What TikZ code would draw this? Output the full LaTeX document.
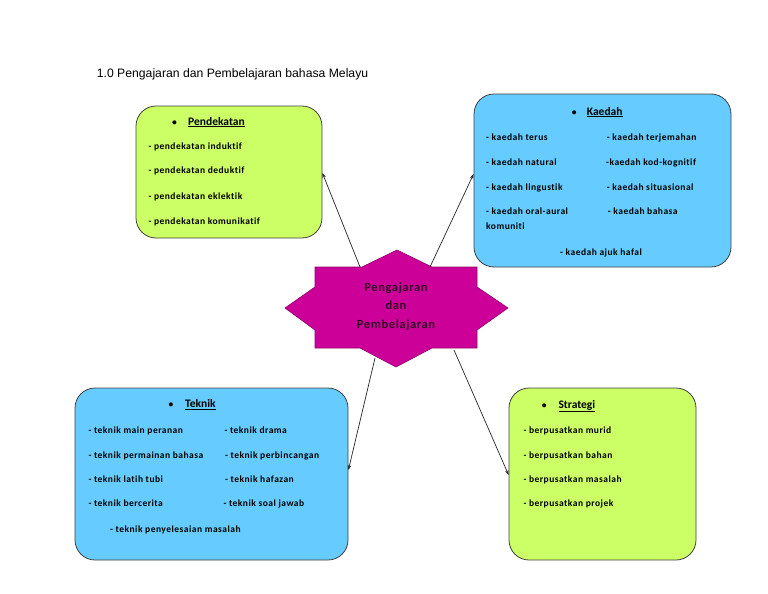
\documentclass[tikz,border=0pt]{standalone}
\usepackage{fontspec}
\setmainfont{Carlito}
\newfontfamily\titlefont{Liberation Sans}
\newfontfamily\boxfont[LetterSpace=5,Ligatures=NoCommon]{Carlito}
\usetikzlibrary{arrows.meta}

\definecolor{limebox}{RGB}{204,255,102}
\definecolor{skybox}{RGB}{102,204,255}
\definecolor{starpink}{RGB}{204,0,153}
\definecolor{startext}{RGB}{55,0,40}

\tikzset{
  panel/.style={draw=black!75, line width=0.8pt, rounded corners=20pt, inner sep=0pt},
  item/.style={anchor=mid west, inner sep=0pt, font=\boxfont\fontsize{9.5}{11}\selectfont\bfseries},
  heading/.style={anchor=mid west, inner sep=0pt, font=\fontsize{11.5}{13}\selectfont\bfseries},
  link/.style={-{Stealth[length=5pt,width=3.5pt]}, line width=0.7pt, black!85},
}

\begin{document}
\begin{tikzpicture}[x=1pt,y=-1pt]
\useasboundingbox (0,0) rectangle (768,594);

% title
\node [anchor=mid west, inner sep=0pt, font=\titlefont\fontsize{12.2}{14}\selectfont] (title) at (96.7,75) {1.0 Pengajaran dan Pembelajaran bahasa Melayu};

% panels
\node [panel, fill=limebox, minimum width=186pt, minimum height=132pt] (pend) at (229,172) {};
\node [panel, fill=skybox, minimum width=257pt, minimum height=173pt] (kaed) at (602.5,180.5) {};
\node [panel, fill=skybox, minimum width=273pt, minimum height=172pt] (tek) at (211.5,474) {};
\node [panel, fill=limebox, minimum width=187pt, minimum height=172pt] (strat) at (602.5,474) {};

% star
\coordinate (A) at (315,267);
\coordinate (B) at (362,267);
\coordinate (C) at (397,250);
\coordinate (D) at (432,267);
\coordinate (E) at (477,267);
\coordinate (F) at (477,287);
\coordinate (G) at (508,308);
\coordinate (H) at (477,330);
\coordinate (I) at (477,348);
\coordinate (J) at (432,348);
\coordinate (K) at (396,367);
\coordinate (L) at (360,348);
\coordinate (M) at (315,348);
\coordinate (N) at (315,330);
\coordinate (O) at (285,308);
\coordinate (P) at (315,287);

\draw [draw=starpink!70!black, line width=0.6pt, fill=starpink]
(A)--(B)--(C)--(D)--(E)--(F)--(G)--(H)--(I)--(J)--(K)--(L)--(M)--(N)--(O)--(P)--cycle;

\node [align=center, inner sep=0pt, text=startext, font=\boxfont\fontsize{12.5}{18.5}\selectfont\bfseries] (core) at (396,306.5) {Pengajaran\\dan\\Pembelajaran};

% arrow starts on the star
\coordinate (outPend) at (360,267);
\coordinate (outKaed) at (430,267);
\coordinate (outTek) at (375,358);
\coordinate (outStrat) at (454,350);

\draw [link] (outPend) -- ([yshift=-1pt]pend.east);
\draw [link] (outKaed) -- ([yshift=6.5pt]kaed.west);
\draw [link] (outTek) -- ([yshift=4pt]tek.east);
\draw [link] (outStrat) -- ([yshift=-1pt]strat.west);

% Pendekatan
\node [item] (pendB) at (172,122.7) {•};
\node [heading] (pendH) at (188,122.7) {\underline{Pendekatan}};
\node [item] (pend1) at (148.3,146.7) {- pendekatan induktif};
\node [item] (pend2) at (148.3,171.5) {- pendekatan deduktif};
\node [item] (pend3) at (148.3,196.7) {- pendekatan eklektik};
\node [item] (pend4) at (148.3,221.7) {- pendekatan komunikatif};

% Kaedah
\node [item] (kaedB) at (571.7,112.7) {•};
\node [heading] (kaedH) at (586.7,112.7) {\underline{Kaedah}};
\node [item] (kaed1) at (486,137.7) {- kaedah terus};
\node [item] (kaed2) at (606.7,137.7) {- kaedah terjemahan};
\node [item] (kaed3) at (486,162.7) {- kaedah natural};
\node [item] (kaed4) at (606,162.7) {-kaedah kod-kognitif};
\node [item] (kaed5) at (486,187.7) {- kaedah lingustik};
\node [item] (kaed6) at (606.7,187.7) {- kaedah situasional};
\node [item] (kaed7) at (486,211.7) {- kaedah oral-aural};
\node [item] (kaed8) at (607.7,211.7) {- kaedah bahasa};
\node [item] (kaed9) at (486,226.7) {komuniti};
\node [item] (kaed10) at (560,252.7) {- kaedah ajuk hafal};

% Teknik
\node [item] (tekB) at (168.3,405) {•};
\node [heading] (tekH) at (185,405) {\underline{Teknik}};
\node [item] (tek1) at (88.3,431) {- teknik main peranan};
\node [item] (tek2) at (224.3,431) {- teknik drama};
\node [item] (tek3) at (88.3,455.7) {- teknik permainan bahasa};
\node [item] (tek4) at (225,455.7) {- teknik perbincangan};
\node [item] (tek5) at (88.3,480) {- teknik latih tubi};
\node [item] (tek6) at (225,480) {- teknik hafazan};
\node [item] (tek7) at (88.3,504.3) {- teknik bercerita};
\node [item] (tek8) at (223.3,504.3) {- teknik soal jawab};
\node [item] (tek9) at (110,530) {- teknik penyelesaian masalah};

% Strategi
\node [item] (stratB) at (541.7,405.7) {•};
\node [heading] (stratH) at (558.3,405.7) {\underline{Strategi}};
\node [item] (strat1) at (523.3,431) {- berpusatkan murid};
\node [item] (strat2) at (523.3,455.7) {- berpusatkan bahan};
\node [item] (strat3) at (523.3,480) {- berpusatkan masalah};
\node [item] (strat4) at (523.3,504.3) {- berpusatkan projek};
\end{tikzpicture}
\end{document}
